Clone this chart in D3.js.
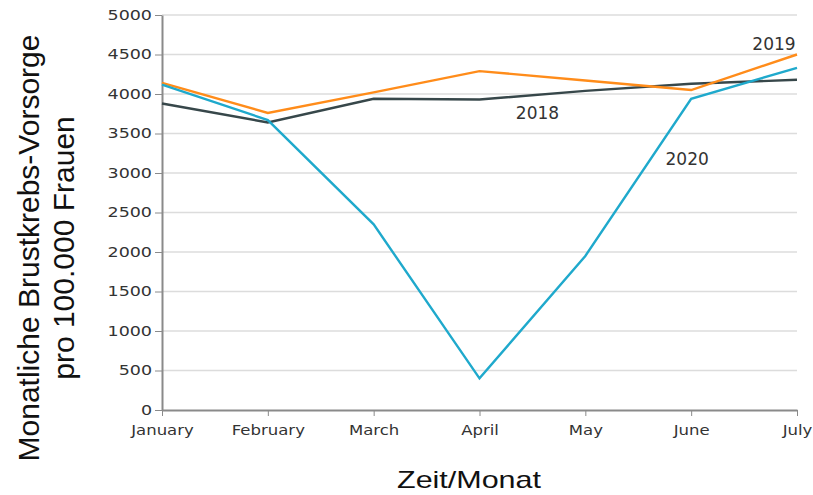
<!DOCTYPE html>
<html>
<head>
<meta charset="utf-8">
<script src="https://cdn.jsdelivr.net/npm/d3@7"></script>
<style>
  body { margin: 0; background: #fff; }
  .grid line { stroke: #dcdcdc; }
  .axis path, .axis line { stroke: #8a8a8a; }
  .axis text { fill: #333; font-family: "DejaVu Sans", sans-serif; }
</style>
</head>
<body>
<svg id="chart" width="813" height="495"></svg>
<script>
var months = ["January", "February", "March", "April", "May", "June", "July"];
var yTicks = [0, 500, 1000, 1500, 2000, 2500, 3000, 3500, 4000, 4500, 5000];
var v2018 = [3880, 3640, 3940, 3930, 4040, 4130, 4180];
var v2019 = [4140, 3760, 4020, 4290, 4170, 4050, 4500];
var v2020 = [4120, 3670, 2350, 400, 1950, 3940, 4330];
var seriesNames = ["2018", "2019", "2020"];

var margin = {top: 15, right: 16, bottom: 85, left: 162},
    width = 813 - margin.left - margin.right,
    height = 495 - margin.top - margin.bottom;

var svg = d3.select("#chart");
var g = svg.append("g")
    .attr("transform", "translate(" + margin.left + "," + margin.top + ")");

var x = d3.scalePoint().domain(months).range([0, width]);
var y = d3.scaleLinear().domain([0, 5000]).range([height, 0]);

// gridlines
g.append("g").attr("class", "grid")
  .selectAll("line").data(yTicks.slice(1)).enter().append("line")
    .attr("x1", 0).attr("x2", width)
    .attr("y1", function(d) { return y(d); })
    .attr("y2", function(d) { return y(d); })
    .attr("stroke-width", 1.5);

var xAxis = g.append("g").attr("class", "axis")
    .attr("transform", "translate(0," + height + ")")
    .call(d3.axisBottom(x).tickSize(6).tickPadding(9).tickSizeOuter(0));
xAxis.selectAll("text")
    .attr("font-size", "14px")
    .attr("transform", "scale(1.18,1)");
xAxis.select(".domain").attr("stroke-width", 2);

var yAxis = g.append("g").attr("class", "axis")
    .call(d3.axisLeft(y).tickValues(yTicks).tickFormat(d3.format("d"))
      .tickSize(7).tickPadding(1).tickSizeOuter(0));
yAxis.selectAll("text")
    .attr("font-size", "14px")
    .attr("transform", "scale(1.25,1)");
yAxis.select(".domain").attr("stroke-width", 2);

var line = d3.line()
    .x(function(d, i) { return x(months[i]); })
    .y(function(d) { return y(d); });

var series = [
  {name: seriesNames[0], values: v2018, color: "#37474a"},
  {name: seriesNames[1], values: v2019, color: "#ff8c1a"},
  {name: seriesNames[2], values: v2020, color: "#1fa9cc"}
];

g.selectAll(".series").data(series).enter().append("path")
    .attr("class", "series")
    .attr("fill", "none")
    .attr("stroke", function(d) { return d.color; })
    .attr("stroke-width", 2.4)
    .attr("d", function(d) { return line(d.values); });

// series labels
var labels = [
  {text: seriesNames[1], mi: 6, v: 4500, dx: -23, dy: -5},
  {text: seriesNames[0], mi: 3, v: 3930, dx: 58, dy: 19},
  {text: seriesNames[2], mi: 5, v: 3940, dx: -4, dy: 66}
];
g.selectAll(".lbl").data(labels).enter().append("text")
    .attr("class", "lbl")
    .attr("x", function(d) { return x(months[d.mi]) + d.dx; })
    .attr("y", function(d) { return y(d.v) + d.dy; })
    .attr("text-anchor", "middle")
    .attr("font-family", "\"DejaVu Sans\", sans-serif")
    .attr("font-size", "17px")
    .attr("fill", "#333")
    .text(function(d) { return d.text; });

// axis titles
svg.append("text")
    .attr("transform", "translate(469,488) scale(1.27,1)")
    .attr("text-anchor", "middle")
    .attr("font-family", "\"Liberation Sans\", Arial, sans-serif")
    .attr("font-size", "24px")
    .attr("fill", "#111")
    .text("Zeit/Monat");

var yt = svg.append("text")
    .attr("transform", "translate(39,248) rotate(-90)")
    .attr("text-anchor", "middle")
    .attr("font-family", "\"Liberation Sans\", Arial, sans-serif")
    .attr("font-size", "30px")
    .attr("fill", "#111");
yt.append("tspan").attr("x", 0).attr("y", 0).text("Monatliche Brustkrebs-Vorsorge");
yt.append("tspan").attr("x", 0).attr("y", 35).text("pro 100.000 Frauen");
</script>
</body>
</html>
